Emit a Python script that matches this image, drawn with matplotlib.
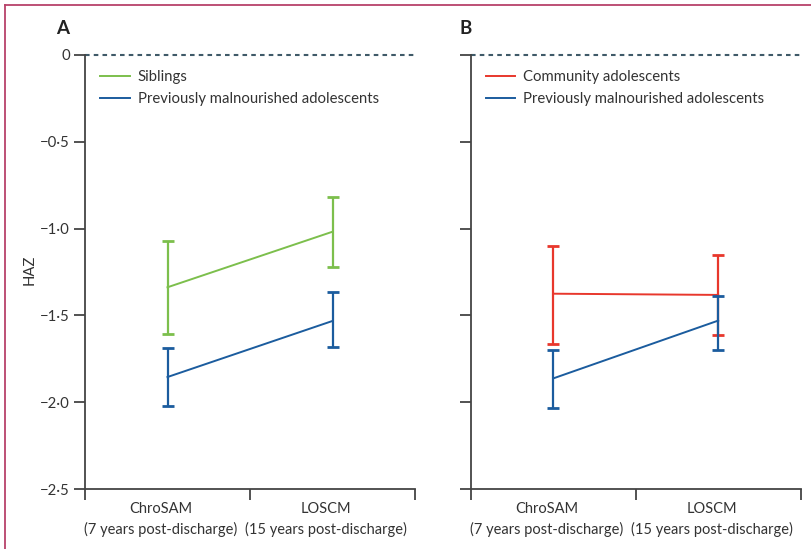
import matplotlib
matplotlib.use("Agg")
import matplotlib.pyplot as plt
from matplotlib.lines import Line2D
import matplotlib.transforms as mtransforms
import numpy as np

plt.rcParams['font.family'] = ['Lato', 'DejaVu Sans']

categories = ["ChroSAM\n(7 years post-discharge)", "LOSCM\n(15 years post-discharge)"]
ytick_values = [0, -0.5, -1.0, -1.5, -2.0, -2.5]
ytick_labels = ["0", "\u22120\u00b75", "\u22121\u00b70", "\u22121\u00b75", "\u22122\u00b70", "\u22122\u00b75"]

# Panel A
sib_mean = [-1.338, -1.018]
sib_low = [-1.605, -1.221]
sib_high = [-1.071, -0.816]
pmA_mean = [-1.855, -1.532]
pmA_low = [-2.022, -1.680]
pmA_high = [-1.688, -1.367]

# Panel B
com_mean = [-1.375, -1.382]
com_low = [-1.663, -1.613]
com_high = [-1.098, -1.150]
pmB_mean = [-1.863, -1.530]
pmB_low = [-2.031, -1.699]
pmB_high = [-1.699, -1.386]

GREEN = '#7cbf4c'
BLUE = '#1b5c9e'
RED = '#e8372c'
AXC = '#444444'
DASH = '#3f5a68'
FS = 10.7

W, H = 811, 549
fig = plt.figure(figsize=(W / 100, H / 100), dpi=100)

def mk_ax(left_px, right_px):
    return fig.add_axes([left_px / W, (H - 489) / H, (right_px - left_px) / W, 434 / H])

axA = mk_ax(85, 415)
axB = mk_ax(470.7, 800.7)

xpos = np.array([0.5, 1.5])

def draw_series(ax, mean, low, high, color, label):
    mean = np.array(mean); low = np.array(low); high = np.array(high)
    ax.plot(xpos, mean, color=color, lw=1.4, label=label, zorder=3)
    ax.errorbar(xpos, mean, yerr=[mean - low, high - mean], fmt='none',
                ecolor=color, elinewidth=1.6, capsize=4.2, capthick=2.0, zorder=3)

def style(ax, labels_on):
    ax.set_xlim(0, 2)
    ax.set_ylim(-2.5, 0)
    ax.axhline(0, color=DASH, lw=1.5, ls=(0, (2.2, 2.0)), zorder=1, clip_on=False)
    for s in ['top', 'right']:
        ax.spines[s].set_visible(False)
    for s in ['left', 'bottom']:
        ax.spines[s].set_color(AXC)
        ax.spines[s].set_linewidth(1.3)
    ax.set_xticks([0, 1, 2])
    ax.set_xticklabels([])
    ax.tick_params(axis='x', direction='out', length=8, width=1.3, color=AXC)
    ax.set_yticks(ytick_values)
    if labels_on:
        ax.set_yticklabels(ytick_labels, fontsize=FS, color='#333333')
    else:
        ax.set_yticklabels([])
    ax.tick_params(axis='y', direction='out', length=8, width=1.3, color=AXC, pad=3)
    off = mtransforms.offset_copy(ax.transData, fig=fig, x=-6.5, y=-13, units='dots')
    for x, c in zip(xpos, categories):
        ax.text(x, -2.5, c, transform=off, ha='center', va='top',
                fontsize=10.5, color='#333333', linespacing=1.5)

style(axA, True)
style(axB, False)

draw_series(axA, sib_mean, sib_low, sib_high, GREEN, 'Siblings')
draw_series(axA, pmA_mean, pmA_low, pmA_high, BLUE, 'Previously malnourished adolescents')
draw_series(axB, com_mean, com_low, com_high, RED, 'Community adolescents')
draw_series(axB, pmB_mean, pmB_low, pmB_high, BLUE, 'Previously malnourished adolescents')

for ax in (axA, axB):
    h, l = ax.get_legend_handles_labels()
    ax.legend(h, l, loc='upper left', bbox_to_anchor=(0.045, 0.965), frameon=False,
              fontsize=FS, handlelength=2.0, handletextpad=0.55, labelspacing=0.55,
              borderpad=0, borderaxespad=0, labelcolor='#333333')

fig.text(30 / W, 1 - 270 / H, 'HAZ', rotation=90, ha='center', va='center',
         fontsize=FS, color='#333333')
fig.text(63 / W, 1 - 28 / H, 'A', ha='center', va='center', fontsize=13.5,
         fontweight='bold', color='#222222')
fig.text(466 / W, 1 - 28 / H, 'B', ha='center', va='center', fontsize=13.5,
         fontweight='bold', color='#222222')

# page frame lines
fig.add_artist(Line2D([5 / W, 5 / W], [0, 1 - 5 / H], transform=fig.transFigure,
                      color='#b8426a', lw=1.3))
fig.add_artist(Line2D([5 / W, 1], [1 - 5 / H, 1 - 5 / H], transform=fig.transFigure,
                      color='#b8426a', lw=1.3))

fig.savefig('out.png', dpi=100)
